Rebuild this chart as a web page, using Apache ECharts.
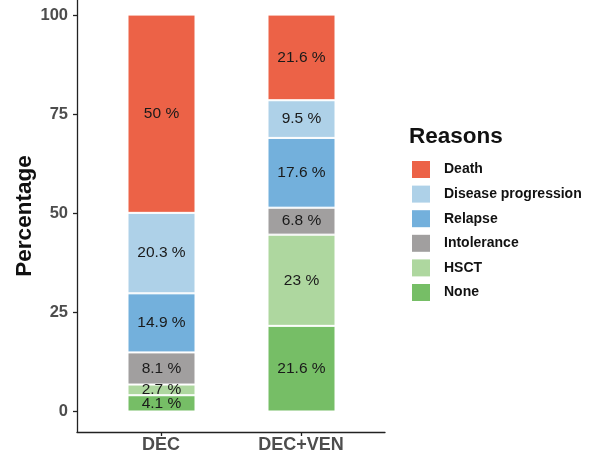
<!DOCTYPE html>
<html>
<head>
<meta charset="utf-8">
<script src="https://cdn.jsdelivr.net/npm/echarts@6/dist/echarts.min.js"></script>
<style>
  html, body { margin: 0; padding: 0; background: #fff; }
  #container { width: 595px; height: 458px; }
</style>
</head>
<body>
<div id="container"></div>
<script>
var categories = ['DEC', 'DEC+VEN'];
// legend order (top of stack first)
var reasons = ['Death', 'Disease progression', 'Relapse', 'Intolerance', 'HSCT', 'None'];
var reasonColors = ['#EC6247', '#AED1E8', '#73B0DC', '#A19F9F', '#AED79F', '#76BE66'];
var decValues = [50, 20.3, 14.9, 8.1, 2.7, 4.1];
var decVenValues = [21.6, 9.5, 17.6, 6.8, 23, 21.6];
var yTicks = [0, 25, 50, 75, 100];
var xTicks = [1, 2];

var myChart = echarts.init(document.getElementById('container'), null, { renderer: 'canvas' });

// stack from bottom (None) to top (Death)
var series = [];
for (var i = reasons.length - 1; i >= 0; i--) {
    series.push({
        name: reasons[i],
        type: 'bar',
        stack: 'total',
        xAxisIndex: 1,
        yAxisIndex: 1,
        barWidth: 68,
        itemStyle: { color: reasonColors[i], borderColor: '#fff', borderWidth: 1 },
        label: {
            show: true,
            position: 'inside',
            color: '#1a1a1a',
            fontSize: 15.5,
            fontFamily: 'Liberation Sans',
            formatter: '{c} %'
        },
        data: [decValues[i], decVenValues[i]]
    });
}

var axisFont = { fontFamily: 'Liberation Sans', fontWeight: 'bold', color: '#4D4D4D' };
var axisLineStyle = { color: '#222', width: 1.3 };
// y range includes the plot's padding below 0 and the cropped top
var yMin = -5.17;
var yMax = 103.78;

var option = {
    animation: false,
    title: {
        text: 'Reasons',
        left: 404,
        top: 120,
        textStyle: { fontFamily: 'Liberation Sans', fontWeight: 'bold', fontSize: 22.5, color: '#111' }
    },
    legend: {
        data: reasons,
        orient: 'vertical',
        left: 412,
        top: 161,
        padding: 0,
        itemWidth: 18,
        itemHeight: 17,
        itemGap: 7.6,
        icon: 'rect',
        itemStyle: { borderWidth: 0 },
        textStyle: {
            fontFamily: 'Liberation Sans', fontWeight: 'bold', fontSize: 14, color: '#111',
            padding: [0, 0, 0, 9]
        }
    },
    grid: [
        // frame grid: discrete positions 1..2 with 0.6 padding each side
        { left: 77, right: 595 - 385, top: 0, bottom: 26 },
        // bar grid: 140px bands centred on the two bars
        { left: 91.5, right: 595 - 371.5, top: 0, bottom: 26 }
    ],
    xAxis: [{
        type: 'value',
        gridIndex: 0,
        min: 0.4,
        max: 2.6,
        splitLine: { show: false },
        axisLine: { show: true, onZero: false, lineStyle: axisLineStyle },
        axisTick: { show: true, customValues: xTicks, length: 4, lineStyle: axisLineStyle },
        axisLabel: Object.assign({
            customValues: xTicks,
            margin: 4,
            fontSize: 18,
            formatter: function (v) { return categories[Math.round(v) - 1] || ''; }
        }, axisFont)
    }, {
        type: 'category',
        gridIndex: 1,
        data: categories,
        show: false
    }],
    yAxis: [{
        type: 'value',
        gridIndex: 0,
        min: yMin,
        max: yMax,
        name: 'Percentage',
        nameLocation: 'middle',
        nameGap: 41,
        nameMoveOverlap: false,
        nameTextStyle: { fontFamily: 'Liberation Sans', fontWeight: 'bold', fontSize: 22.5, color: '#111' },
        splitLine: { show: false },
        axisLine: { show: true, onZero: false, lineStyle: axisLineStyle },
        axisTick: { show: true, customValues: yTicks, length: 4, lineStyle: axisLineStyle },
        axisLabel: Object.assign({ customValues: yTicks, margin: 9, fontSize: 16.5 }, axisFont)
    }, {
        type: 'value',
        gridIndex: 1,
        min: yMin,
        max: yMax,
        show: false
    }],
    series: series
};

myChart.setOption(option);
</script>
</body>
</html>
